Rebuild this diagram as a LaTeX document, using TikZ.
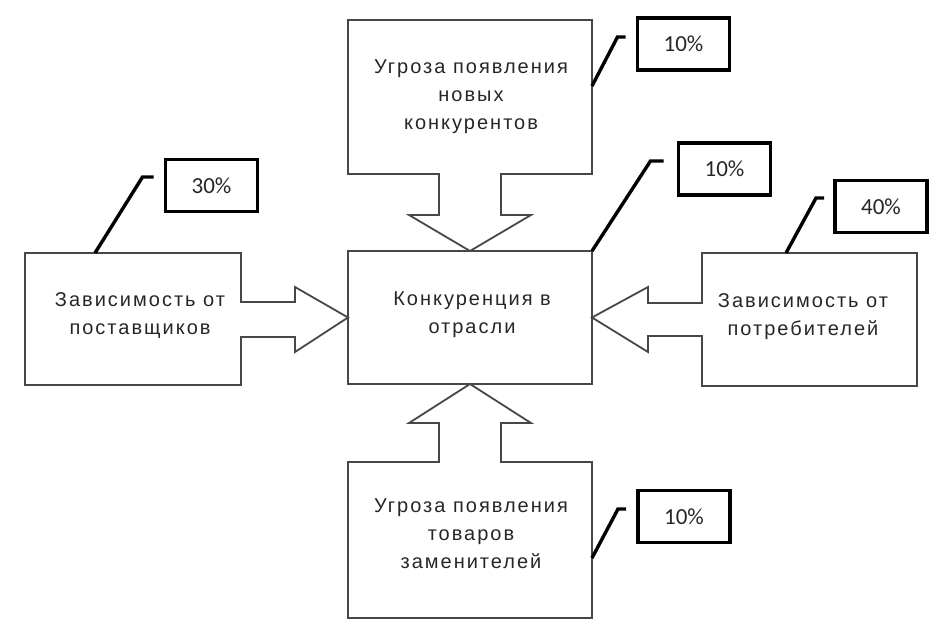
\documentclass[tikz,border=0pt]{standalone}
\usepackage{fontspec}
\setmainfont{Liberation Sans}
\newfontfamily\pctfont{Carlito}
\begin{document}
\begin{tikzpicture}[x=1pt,y=-1pt,
  boxline/.style={draw=black!72,line width=1.8pt,line join=miter},
  lbl/.style={font=\fontsize{20}{28}\selectfont\addfontfeature{LetterSpace=10},text=black!85,align=center,inner sep=0pt,outer sep=0pt},
  pct/.style={draw=black,line width=3.4pt,minimum width=92pt,minimum height=52pt,inner sep=0pt,outer sep=0pt,font=\pctfont\fontsize{23}{25}\selectfont,text=black!85},
  leader/.style={draw=black,line width=3.4pt,line join=miter}]
\useasboundingbox (0,0) rectangle (937,637);
% main boxes (outline drawn separately)
\node[minimum width=244pt,minimum height=133pt,inner sep=0pt,outer sep=0pt] (C) at (470,317.5) {};
\node[minimum width=244pt,minimum height=154pt,inner sep=0pt,outer sep=0pt] (T) at (470,97) {};
\node[minimum width=244pt,minimum height=156pt,inner sep=0pt,outer sep=0pt] (B) at (470,540) {};
\node[minimum width=216pt,minimum height=132pt,inner sep=0pt,outer sep=0pt] (L) at (133,319) {};
\node[minimum width=215pt,minimum height=133pt,inner sep=0pt,outer sep=0pt] (R) at (809.5,319.5) {};
% centre box
\draw[boxline] (C.north west) rectangle (C.south east);
% top box with downward arrow
\draw[boxline] ([xshift=-31pt]T.south) -- (T.south west) -- (T.north west) -- (T.north east) -- (T.south east)
  -- ([xshift=31pt]T.south) -- ([xshift=31pt,yshift=-41pt]T.south) -- ([xshift=61pt,yshift=-41pt]T.south)
  -- (C.north) -- ([xshift=-61pt,yshift=-41pt]T.south) -- ([xshift=-31pt,yshift=-41pt]T.south) -- cycle;
% bottom box with upward arrow
\draw[boxline] ([xshift=-31pt]B.north) -- (B.north west) -- (B.south west) -- (B.south east) -- (B.north east)
  -- ([xshift=31pt]B.north) -- ([xshift=31pt,yshift=39pt]B.north) -- ([xshift=61pt,yshift=39pt]B.north)
  -- (C.south) -- ([xshift=-61pt,yshift=39pt]B.north) -- ([xshift=-31pt,yshift=39pt]B.north) -- cycle;
% left box with rightward arrow
\draw[boxline] ([yshift=17pt]L.east) -- (L.north east) -- (L.north west) -- (L.south west) -- (L.south east)
  -- ([yshift=-18pt]L.east) -- ([xshift=54pt,yshift=-18pt]L.east) -- ([xshift=54pt,yshift=-33pt]L.east)
  -- (C.west) -- ([xshift=54pt,yshift=32pt]L.east) -- ([xshift=54pt,yshift=17pt]L.east) -- cycle;
% right box with leftward arrow
\draw[boxline] ([yshift=16.5pt]R.west) -- (R.north west) -- (R.north east) -- (R.south east) -- (R.south west)
  -- ([yshift=-16.5pt]R.west) -- ([xshift=-54pt,yshift=-16.5pt]R.west) -- ([xshift=-54pt,yshift=-32.5pt]R.west)
  -- (C.east) -- ([xshift=-54pt,yshift=32.5pt]R.west) -- ([xshift=-54pt,yshift=16.5pt]R.west) -- cycle;
% texts
\node[lbl] (tT) at (471,97) {Угроза появления\\новых\\конкурентов};
\node[lbl] (tC) at (472,315) {Конкуренция в\\отрасли};
\node[lbl] (tL) at (140,316) {Зависимость от\\поставщиков};
\node[lbl] (tR) at (803,317) {Зависимость от\\потребителей};
\node[lbl] (tB) at (471,534) {Угроза появления\\товаров\\заменителей};
% percentage boxes
\node[pct] (P1) at (683.5,44) {10\%};
\node[pct] (P2) at (724.5,169) {10\%};
\node[pct] (P3) at (211.5,185.5) {30\%};
\node[pct] (P4) at (881,206.5) {40\%};
\node[pct] (P5) at (684,516.5) {10\%};
% leader ends
\coordinate (e1) at ([xshift=-12pt,yshift=7pt]P1.west);
\coordinate (e2) at ([xshift=-15pt,yshift=8pt]P2.west);
\coordinate (e3) at ([xshift=-12pt,yshift=8.5pt]P3.west);
\coordinate (e4) at ([xshift=-11pt,yshift=8.5pt]P4.west);
\coordinate (e5) at ([xshift=-12pt,yshift=7.5pt]P5.west);
% leaders
\draw[leader] ([yshift=11pt]T.east) -- ([xshift=-8pt]e1) -- (e1);
\draw[leader] (C.north east) -- ([xshift=-13pt]e2) -- (e2);
\draw[leader] ([xshift=-38pt]L.north) -- ([xshift=-11pt]e3) -- (e3);
\draw[leader] ([xshift=-23.5pt]R.north) -- ([xshift=-8pt]e4) -- (e4);
\draw[leader] ([yshift=-18pt]B.east) -- ([xshift=-8pt]e5) -- (e5);
\end{tikzpicture}
\end{document}
